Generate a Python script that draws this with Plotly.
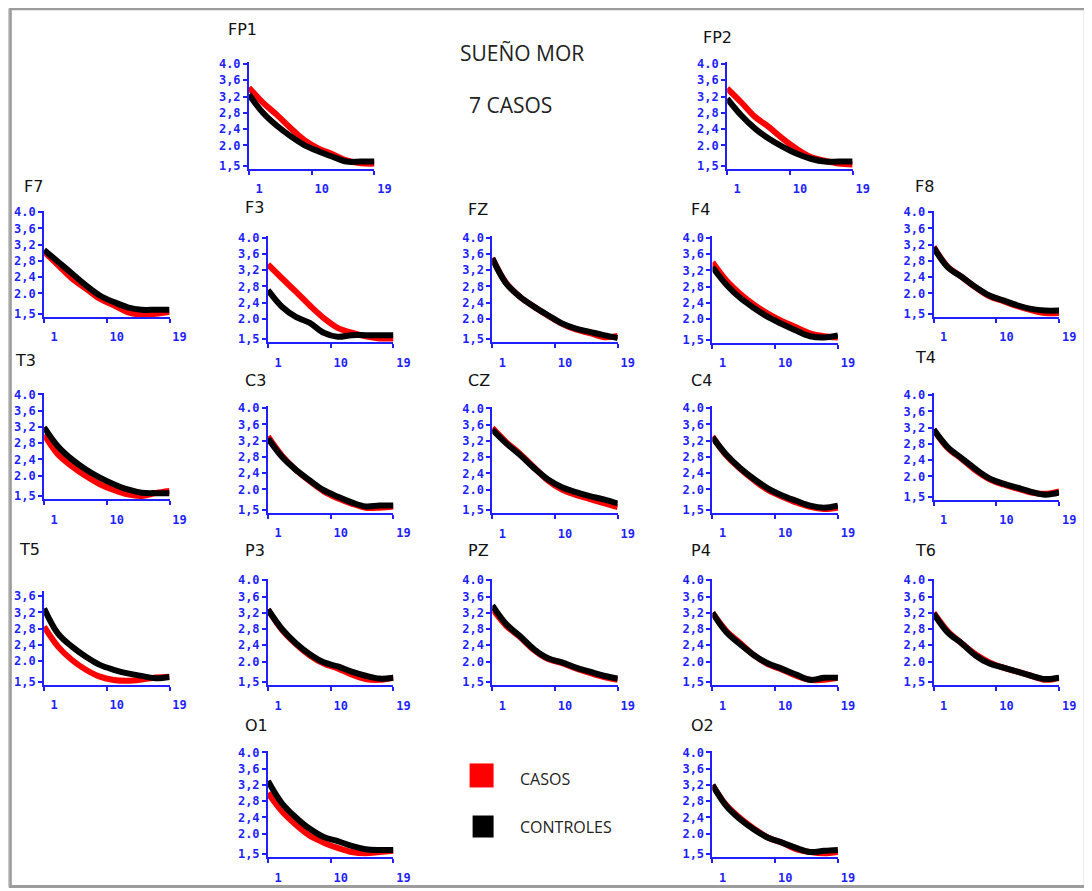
import plotly.graph_objects as go

# figure size (page adds an 8px body margin)
OFF = 8
FW, FH = 1100, 900
# measured mapping page -> photograph: X = SX*page_x + BX, Y = SY*page_y + BY
SX, BX = 0.985, -0.7
SY, BY = 0.989, 5.4

# ---------------- data ----------------
XS = [1, 3, 5, 7, 9, 11, 13, 15, 17, 19]

electrodes = ["FP1", "FP2", "F7", "F3", "FZ", "F4", "F8", "T3", "C3", "CZ",
              "C4", "T4", "T5", "P3", "PZ", "P4", "T6", "O1", "O2"]

casos = {
    "FP1": [3.42, 3.05, 2.75, 2.42, 2.12, 1.92, 1.78, 1.63, 1.56, 1.55],
    "FP2": [3.40, 3.06, 2.70, 2.45, 2.16, 1.91, 1.71, 1.62, 1.55, 1.53],
    "F7":  [3.03, 2.70, 2.37, 2.12, 1.87, 1.71, 1.54, 1.48, 1.50, 1.55],
    "F3":  [3.34, 3.00, 2.67, 2.33, 2.02, 1.78, 1.66, 1.57, 1.52, 1.52],
    "FZ":  [3.50, 2.88, 2.54, 2.30, 2.08, 1.88, 1.74, 1.65, 1.55, 1.58],
    "F4":  [3.40, 2.95, 2.62, 2.35, 2.13, 1.95, 1.80, 1.65, 1.58, 1.55],
    "F8":  [3.15, 2.66, 2.41, 2.15, 1.93, 1.81, 1.69, 1.59, 1.52, 1.52],
    "T3":  [3.01, 2.52, 2.23, 1.99, 1.79, 1.65, 1.54, 1.50, 1.57, 1.62],
    "C3":  [3.30, 2.83, 2.48, 2.20, 1.95, 1.78, 1.65, 1.55, 1.55, 1.58],
    "CZ":  [3.52, 3.17, 2.88, 2.55, 2.22, 2.00, 1.87, 1.77, 1.67, 1.57],
    "C4":  [3.30, 2.83, 2.50, 2.22, 1.98, 1.82, 1.68, 1.57, 1.52, 1.55],
    "T4":  [3.15, 2.70, 2.43, 2.15, 1.93, 1.80, 1.70, 1.60, 1.57, 1.63],
    "T5":  [2.85, 2.36, 2.03, 1.79, 1.62, 1.54, 1.52, 1.55, 1.60, 1.62],
    "P3":  [3.28, 2.78, 2.43, 2.15, 1.95, 1.83, 1.68, 1.57, 1.55, 1.60],
    "PZ":  [3.30, 2.88, 2.60, 2.28, 2.06, 1.96, 1.83, 1.72, 1.62, 1.55],
    "P4":  [3.20, 2.75, 2.45, 2.15, 1.93, 1.80, 1.65, 1.55, 1.55, 1.60],
    "T6":  [3.20, 2.75, 2.45, 2.18, 1.98, 1.85, 1.75, 1.65, 1.55, 1.60],
    "O1":  [3.00, 2.55, 2.22, 1.95, 1.78, 1.65, 1.55, 1.52, 1.55, 1.58],
    "O2":  [3.20, 2.70, 2.38, 2.12, 1.90, 1.78, 1.62, 1.55, 1.52, 1.55],
}

controles = {
    "FP1": [3.25, 2.80, 2.48, 2.22, 2.00, 1.85, 1.72, 1.60, 1.60, 1.60],
    "FP2": [3.15, 2.74, 2.41, 2.16, 1.96, 1.79, 1.67, 1.60, 1.60, 1.60],
    "F7":  [3.07, 2.78, 2.49, 2.20, 1.95, 1.79, 1.66, 1.60, 1.60, 1.60],
    "F3":  [2.71, 2.30, 2.05, 1.90, 1.66, 1.56, 1.60, 1.60, 1.60, 1.60],
    "FZ":  [3.49, 2.87, 2.54, 2.30, 2.09, 1.89, 1.76, 1.68, 1.60, 1.53],
    "F4":  [3.28, 2.85, 2.52, 2.27, 2.05, 1.88, 1.72, 1.58, 1.55, 1.60],
    "F8":  [3.13, 2.65, 2.41, 2.16, 1.95, 1.83, 1.71, 1.62, 1.58, 1.58],
    "T3":  [3.19, 2.72, 2.40, 2.15, 1.95, 1.79, 1.66, 1.58, 1.57, 1.57],
    "C3":  [3.25, 2.80, 2.48, 2.22, 1.98, 1.82, 1.68, 1.58, 1.60, 1.60],
    "CZ":  [3.48, 3.14, 2.85, 2.53, 2.25, 2.06, 1.94, 1.84, 1.76, 1.66],
    "C4":  [3.28, 2.85, 2.52, 2.25, 2.02, 1.85, 1.72, 1.60, 1.55, 1.60],
    "T4":  [3.15, 2.72, 2.45, 2.18, 1.95, 1.82, 1.72, 1.62, 1.55, 1.60],
    "T5":  [3.30, 2.68, 2.36, 2.11, 1.91, 1.79, 1.70, 1.64, 1.58, 1.61],
    "P3":  [3.28, 2.80, 2.45, 2.18, 1.98, 1.88, 1.75, 1.65, 1.58, 1.60],
    "PZ":  [3.38, 2.92, 2.62, 2.30, 2.08, 1.98, 1.85, 1.75, 1.65, 1.58],
    "P4":  [3.20, 2.72, 2.42, 2.15, 1.95, 1.82, 1.68, 1.55, 1.60, 1.60],
    "T6":  [3.18, 2.72, 2.45, 2.15, 1.95, 1.85, 1.75, 1.65, 1.57, 1.60],
    "O1":  [3.30, 2.75, 2.40, 2.12, 1.92, 1.82, 1.70, 1.62, 1.60, 1.60],
    "O2":  [3.20, 2.68, 2.35, 2.10, 1.90, 1.78, 1.65, 1.55, 1.58, 1.60],
}

Y_TICKS = [1.5, 2.0, 2.4, 2.8, 3.2, 3.6, 4.0]
Y_TICKTEXT = ["1,5", "2.0", "2,4", "2,8", "3,2", "3,6", "4.0"]
X_TICKS = [1, 10, 19]
X_TICKTEXT = ["1", "10", "19"]

# ---------------- layout (target picture pixels) ----------------
panel_pos = {
    "FP1": (248.3, 64.3),
    "FP2": (726.7, 64.3),
    "F7":  (43.3, 212.3),
    "F3":  (267.3, 237.7),
    "FZ":  (491.7, 237.7),
    "F4":  (712.0, 238.0),
    "F8":  (933.3, 212.3),
    "T3":  (43.3, 394.3),
    "C3":  (267.3, 408.0),
    "CZ":  (491.7, 408.3),
    "C4":  (712.0, 408.0),
    "T4":  (933.3, 395.0),
    "T5":  (43.3, 579.7),
    "P3":  (267.3, 580.0),
    "PZ":  (491.7, 580.0),
    "P4":  (712.0, 580.0),
    "T6":  (933.3, 580.0),
    "O1":  (267.3, 752.0),
    "O2":  (712.0, 752.0),
}
title_pos = {
    "FP1": (225, 30), "FP2": (700, 38), "F7": (21, 187), "F3": (242, 208),
    "FZ": (465, 210), "F4": (688, 210), "F8": (913, 187), "T3": (12, 360),
    "C3": (242, 380), "CZ": (465, 380), "C4": (688, 380), "T4": (913, 357),
    "T5": (16, 549), "P3": (242, 550), "PZ": (465, 550), "P4": (688, 550),
    "T6": (913, 550), "O1": (242, 725), "O2": (688, 725),
}


def px(X):
    return ((X - BX) / SX - OFF) / FW


def py(Y):
    return 1 - ((Y - BY) / SY - OFF) / FH


PX_PER_UNIT = 40.6
PANEL_W = 125.5
BLUE = "#1f1fff"
tickfont = dict(family="DejaVu Sans Mono", size=12, color=BLUE, weight="bold")

fig = go.Figure()
layout = {}
annotations = []

for i, name in enumerate(electrodes, start=1):
    L, T = panel_pos[name]
    ymax = 4.04
    ticks, ttext = Y_TICKS, Y_TICKTEXT
    if name == "T5":
        ymax = 3.72
        ticks, ttext = Y_TICKS[:-1], Y_TICKTEXT[:-1]
    ymin = 1.42
    top_px = T + (4.0 - ymax) * PX_PER_UNIT
    bot_px = T + (4.0 - ymin) * PX_PER_UNIT
    xd = [px(L), px(L + PANEL_W)]
    yd = [py(bot_px), py(top_px)]
    xa = "x" if i == 1 else f"x{i}"
    ya = "y" if i == 1 else f"y{i}"
    xkey = "xaxis" if i == 1 else f"xaxis{i}"
    ykey = "yaxis" if i == 1 else f"yaxis{i}"
    layout[xkey] = dict(domain=xd, anchor=ya, range=[1, 19], tickvals=X_TICKS,
                        ticktext=X_TICKTEXT, showgrid=False, zeroline=False,
                        showline=True, linecolor=BLUE, linewidth=2,
                        ticks="outside", ticklen=4, tickcolor=BLUE, tickwidth=2,
                        tickfont=tickfont, ticklabelshift=10, ticklabelstandoff=4,
                        fixedrange=True)
    layout[ykey] = dict(domain=yd, anchor=xa, range=[ymin, ymax], tickvals=ticks,
                        ticktext=ttext, showgrid=False, zeroline=False,
                        showline=True, linecolor=BLUE, linewidth=2,
                        ticks="outside", ticklen=4, tickcolor=BLUE, tickwidth=2,
                        tickfont=tickfont, fixedrange=True)
    fig.add_trace(go.Scatter(x=XS, y=casos[name], mode="lines", xaxis=xa, yaxis=ya,
                             line=dict(color="#ff0000", width=6, shape="spline"),
                             name="CASOS", showlegend=False, cliponaxis=True))
    fig.add_trace(go.Scatter(x=XS, y=controles[name], mode="lines", xaxis=xa, yaxis=ya,
                             line=dict(color="#000000", width=6, shape="spline"),
                             name="CONTROLES", showlegend=False, cliponaxis=True))
    tx, ty = title_pos[name]
    annotations.append(dict(text=name, x=px(tx), y=py(ty), xref="paper", yref="paper",
                            xanchor="left", yanchor="middle", showarrow=False,
                            font=dict(family="DejaVu Sans", size=16, color="#111111")))

hdr_font = dict(family="Open Sans", size=21, color="#222222")
annotations.append(dict(text="SUEÑO MOR", x=px(457), y=py(53), xref="paper", yref="paper",
                        xanchor="left", yanchor="middle", showarrow=False, font=hdr_font))
annotations.append(dict(text="7 CASOS", x=px(466), y=py(105), xref="paper", yref="paper",
                        xanchor="left", yanchor="middle", showarrow=False, font=hdr_font))
leg_font = dict(family="Open Sans", size=16, color="#222222")
annotations.append(dict(text="CASOS", x=px(517), y=py(779), xref="paper", yref="paper",
                        xanchor="left", yanchor="middle", showarrow=False, font=leg_font))
annotations.append(dict(text="CONTROLES", x=px(517), y=py(826), xref="paper", yref="paper",
                        xanchor="left", yanchor="middle", showarrow=False, font=leg_font))

shapes = [
    dict(type="rect", xref="paper", yref="paper", x0=px(469), x1=px(493),
         y0=py(787), y1=py(763), fillcolor="#ff0000", line=dict(width=0)),
    dict(type="rect", xref="paper", yref="paper", x0=px(472), x1=px(493),
         y0=py(837), y1=py(815), fillcolor="#000000", line=dict(width=0)),
    # window frame
    dict(type="rect", xref="paper", yref="paper", x0=px(9.5), x1=px(1085),
         y0=py(886), y1=py(9), line=dict(color="#9c9c9c", width=3)),
    dict(type="line", xref="paper", yref="paper", x0=px(7), x1=px(7),
         y0=py(886), y1=py(9), line=dict(color="#c8c8c8", width=3)),
]

fig.update_layout(width=FW, height=FH, margin=dict(l=0, r=0, t=0, b=0),
                  paper_bgcolor="white", plot_bgcolor="white", showlegend=False,
                  annotations=annotations, shapes=shapes, **layout)

fig.write_html("out.html")
